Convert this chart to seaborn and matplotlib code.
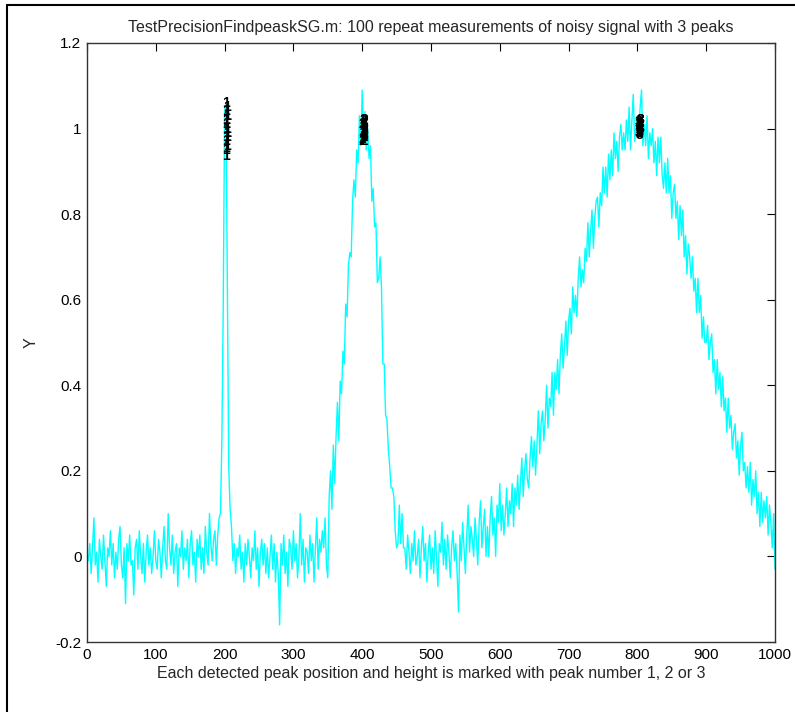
import numpy as np
import matplotlib
matplotlib.use("Agg")
import matplotlib.pyplot as plt
import seaborn as sns
from matplotlib.lines import Line2D

signal_y = [
    -0.01, 0.03, -0.04, 0.02, 0.09, -0.02, 0.01, -0.06, 0.04, 0.00,
    -0.03, 0.05, -0.01, -0.07, 0.02, 0.00, 0.06, -0.02, 0.03, -0.05,
    0.01, -0.03, 0.04, 0.07, -0.02, -0.05, 0.02, -0.11, 0.03, -0.01,
    0.05, -0.02, -0.01, -0.09, 0.02, 0.04, -0.03, 0.06, 0.00, -0.04,
    0.03, -0.06, 0.01, 0.05, -0.02, 0.02, -0.04, 0.00, 0.06, -0.01,
    -0.03, 0.04, 0.01, -0.05, 0.02, 0.07, -0.01, -0.03, 0.10, 0.02,
    -0.02, 0.05, -0.04, 0.01, 0.03, -0.07, 0.02, 0.00, 0.06, -0.03,
    0.02, -0.01, 0.04, -0.05, 0.03, 0.06, -0.02, 0.01, -0.06, 0.04,
    0.00, 0.05, -0.03, 0.02, -0.04, 0.07, 0.01, -0.02, 0.10, 0.03,
    -0.01, 0.04, 0.06, -0.02, 0.05, 0.09, 0.10, 0.27, 0.58, 1.04,
    1.06, 0.63, 0.21, 0.11, 0.07, -0.01, 0.03, -0.04, 0.02, 0.00,
    0.05, -0.03, 0.01, -0.06, 0.03, -0.02, 0.04, 0.00, -0.05, 0.02,
    -0.01, 0.06, -0.03, 0.02, -0.07, 0.01, 0.04, -0.02, 0.03, -0.04,
    0.02, -0.05, 0.00, 0.05, -0.03, 0.03, -0.06, 0.01, -0.04, -0.16,
    0.03, -0.02, 0.05, -0.04, 0.01, -0.07, 0.04, 0.02, -0.03, 0.06,
    -0.01, 0.03, -0.05, 0.00, 0.10, -0.02, 0.04, -0.06, 0.02, 0.01,
    -0.04, 0.05, -0.01, 0.03, -0.06, 0.02, 0.09, -0.03, 0.04, 0.01,
    0.06, 0.02, 0.09, -0.02, -0.05, 0.14, 0.20, 0.11, 0.26, 0.17,
    0.28, 0.36, 0.27, 0.41, 0.38, 0.48, 0.45, 0.59, 0.56, 0.68,
    0.71, 0.70, 0.83, 0.88, 0.84, 0.95, 0.92, 1.03, 0.96, 1.09,
    0.98, 1.04, 0.95, 1.00, 0.93, 0.96, 0.83, 0.86, 0.77, 0.78,
    0.64, 0.65, 0.70, 0.63, 0.45, 0.45, 0.33, 0.32, 0.25, 0.21,
    0.16, 0.16, 0.14, 0.06, 0.02, 0.03, 0.12, 0.03, 0.10, 0.02,
    0.02, -0.03, 0.05, 0.01, -0.04, 0.03, -0.01, 0.06, -0.02, 0.00,
    0.04, -0.05, 0.02, 0.07, -0.01, 0.03, -0.06, 0.01, 0.05, -0.03,
    0.02, -0.04, 0.06, 0.00, -0.07, 0.03, 0.01, 0.08, -0.02, 0.04,
    -0.03, 0.05, 0.01, -0.05, 0.02, 0.06, -0.01, 0.03, -0.04, -0.13,
    0.05, -0.01, 0.08, 0.02, -0.04, 0.05, 0.12, 0.01, 0.07, 0.04,
    0.00, 0.09, 0.04, -0.02, 0.08, 0.13, 0.02, 0.07, 0.11, 0.00,
    0.07, 0.00, 0.09, 0.14, 0.05, 0.09, 0.00, 0.12, 0.08, 0.17,
    0.06, 0.12, 0.05, 0.10, 0.16, 0.07, 0.13, 0.10, 0.17, 0.07,
    0.16, 0.12, 0.19, 0.11, 0.17, 0.23, 0.14, 0.20, 0.24, 0.18,
    0.16, 0.23, 0.28, 0.21, 0.27, 0.19, 0.26, 0.34, 0.24, 0.31,
    0.34, 0.27, 0.32, 0.40, 0.30, 0.37, 0.35, 0.43, 0.33, 0.43,
    0.39, 0.46, 0.38, 0.47, 0.52, 0.44, 0.49, 0.55, 0.47, 0.55,
    0.58, 0.52, 0.63, 0.57, 0.61, 0.56, 0.65, 0.70, 0.63, 0.67,
    0.64, 0.72, 0.69, 0.78, 0.70, 0.76, 0.81, 0.72, 0.79, 0.83,
    0.84, 0.77, 0.85, 0.82, 0.91, 0.85, 0.91, 0.84, 0.94, 0.88,
    0.95, 0.89, 0.99, 0.93, 0.97, 0.90, 0.98, 1.01, 0.95, 0.99,
    0.95, 1.02, 0.97, 1.05, 0.95, 1.02, 1.08, 0.97, 1.00, 1.03,
    0.98, 1.05, 1.09, 0.96, 1.01, 0.96, 1.03, 0.93, 0.99, 0.96,
    1.00, 0.92, 0.97, 0.89, 0.98, 0.92, 0.98, 0.89, 0.86, 0.92,
    0.85, 0.93, 0.85, 0.89, 0.79, 0.85, 0.87, 0.79, 0.83, 0.74,
    0.82, 0.75, 0.81, 0.70, 0.75, 0.66, 0.73, 0.70, 0.65, 0.70,
    0.62, 0.65, 0.57, 0.65, 0.57, 0.61, 0.51, 0.56, 0.50, 0.50,
    0.54, 0.46, 0.50, 0.52, 0.43, 0.46, 0.38, 0.46, 0.39, 0.43,
    0.35, 0.42, 0.34, 0.37, 0.29, 0.37, 0.30, 0.33, 0.25, 0.29,
    0.31, 0.23, 0.27, 0.19, 0.26, 0.29, 0.20, 0.22, 0.16, 0.21,
    0.15, 0.22, 0.12, 0.18, 0.14, 0.20, 0.10, 0.15, 0.07, 0.15,
    0.08, 0.13, 0.09, 0.14, 0.05, 0.12, 0.08, 0.02, 0.10, -0.03,
]
signal_x = np.arange(2, 1001, 2)

# detected peaks (position, height) from the repeat measurements
peak1_pos = [197, 198, 197, 197, 198, 197, 198, 197, 197, 198,
             197, 198, 197, 197, 198, 197, 198, 197, 197, 198]
peak1_hgt = [0.935, 0.96, 0.97, 0.98, 0.99, 1.00, 1.00, 1.01, 1.02, 1.03,
             1.04, 1.05, 1.06, 0.95, 0.99, 1.01, 0.98, 1.02, 0.955, 1.03]
peak2_pos = [395, 396, 397, 398, 396, 397, 395, 397, 398, 396,
             397, 396, 398, 395, 397, 396, 397, 398, 396, 397]
peak2_hgt = [0.97, 0.98, 0.99, 1.00, 1.01, 1.02, 0.975, 0.985, 0.995, 1.005,
             1.015, 0.99, 1.00, 1.01, 0.98, 0.995, 1.00, 0.99, 1.02, 0.97]
peak3_pos = [796, 797, 798, 799, 797, 798, 796, 798, 799, 797,
             798, 797, 799, 796, 798, 797, 798, 799, 797, 798]
peak3_hgt = [0.99, 1.00, 1.01, 1.02, 0.995, 1.005, 1.015, 0.985, 1.00, 1.01,
             0.99, 1.00, 1.02, 1.01, 0.995, 1.005, 0.99, 1.00, 1.015, 0.99]

x_ticks = [0, 100, 200, 300, 400, 500, 600, 700, 800, 900, 1000]
y_ticks = [-0.2, 0, 0.2, 0.4, 0.6, 0.8, 1, 1.2]
y_tick_labels = ["-0.2", "0", "0.2", "0.4", "0.6", "0.8", "1", "1.2"]

sns.set_style("white")
plt.rcParams["font.family"] = ["Liberation Sans", "DejaVu Sans"]

fig = plt.figure(figsize=(7.95, 7.12), dpi=100)
ax = fig.add_axes([87 / 795, 70 / 712, 688 / 795, 599 / 712])

sns.lineplot(x=signal_x, y=signal_y, color="#00ffff", linewidth=1.0, ax=ax)

# each detection is written as its peak number at (position, height)
for pos, hgt, lab in [(peak1_pos, peak1_hgt, "1"),
                      (peak2_pos, peak2_hgt, "2"),
                      (peak3_pos, peak3_hgt, "3")]:
    for px, py in zip(pos, hgt):
        ax.text(px, py, lab, fontsize=10, fontweight="bold", color="black",
                ha="left", va="center")

ax.set_xlim(0, 1000)
ax.set_ylim(-0.2, 1.2)
ax.set_xticks(x_ticks)
ax.set_yticks(y_ticks)
ax.set_yticklabels(y_tick_labels)
ax.tick_params(direction="in", length=6, width=0.8, top=True, right=True,
               labelsize=11, colors="black", pad=4)
for sp in ax.spines.values():
    sp.set_color("#333333")
    sp.set_linewidth(1.0)

ax.set_title("TestPrecisionFindpeaskSG.m: 100 repeat measurements of noisy signal with 3 peaks",
             fontsize=11.5, pad=8)
ax.set_xlabel("Each detected peak position and height is marked with peak number 1, 2 or 3",
              fontsize=11.5, labelpad=3)
ax.set_ylabel("Y", fontsize=11.5, labelpad=12)

# screenshot frame (left and top edges)
fig.add_artist(Line2D([7 / 795, 7 / 795], [0, 1 - 5 / 712], transform=fig.transFigure,
                      color="black", linewidth=1.5))
fig.add_artist(Line2D([7 / 795, 1], [1 - 5 / 712, 1 - 5 / 712], transform=fig.transFigure,
                      color="black", linewidth=1.5))

fig.savefig("out.png", dpi=100)
